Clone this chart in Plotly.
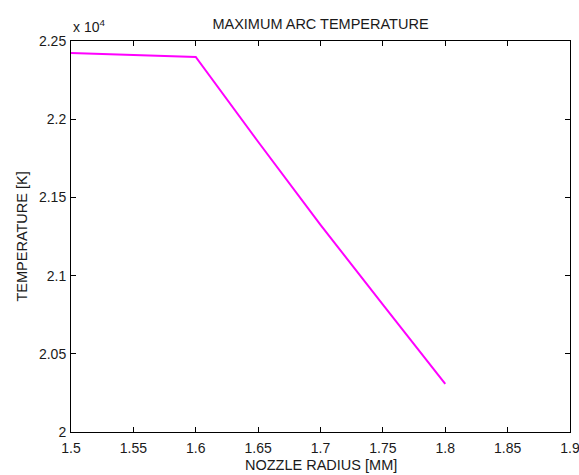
import plotly.graph_objects as go

radius_mm = [1.5, 1.55, 1.6, 1.65, 1.7, 1.75, 1.8]
max_temp_k = [22423, 22411, 22398, 21856, 21324, 20815, 20307]

x_ticks = [1.5, 1.55, 1.6, 1.65, 1.7, 1.75, 1.8, 1.85, 1.9]
x_ticktext = ["1.5", "1.55", "1.6", "1.65", "1.7", "1.75", "1.8", "1.85", "1.9"]
y_ticks = [20000, 20500, 21000, 21500, 22000, 22500]
y_ticktext = ["2", "2.05", "2.1", "2.15", "2.2", "2.25"]

FONT = "Liberation Sans, Arial, sans-serif"
TXT = "#1a1a1a"

fig = go.Figure()
fig.add_trace(go.Scatter(x=radius_mm, y=max_temp_k, mode="lines",
                         line=dict(color="#FF00FF", width=2), showlegend=False))

axis_common = dict(showgrid=False, zeroline=False, showline=True, linecolor="#000000",
                   linewidth=1, mirror="ticks", ticks="inside", ticklen=5,
                   tickcolor="#000000", tickwidth=1, ticklabeloverflow="allow",
                   automargin=False,
                   tickfont=dict(family=FONT, size=14, color=TXT))

fig.update_layout(
    width=579, height=475,
    margin=dict(l=71, r=9, t=41, b=43, autoexpand=False),
    paper_bgcolor="white", plot_bgcolor="white",
    title=dict(text="MAXIMUM ARC TEMPERATURE", x=0.5, xref="paper", xanchor="center",
               y=1, yref="paper", yanchor="bottom", pad=dict(b=12), automargin=False,
               font=dict(family=FONT, size=14.5, color=TXT)),
    xaxis=dict(range=[1.5, 1.9], tickvals=x_ticks, ticktext=x_ticktext,
               ticklabelstandoff=3, **axis_common),
    yaxis=dict(range=[20000, 22500], tickvals=y_ticks, ticktext=y_ticktext,
               ticklabelstandoff=1, **axis_common),
)
fig.add_annotation(text="NOZZLE RADIUS [MM]", xref="paper", yref="paper", x=0.5, y=0,
                   xanchor="center", yanchor="middle", yshift=-33, showarrow=False,
                   font=dict(family=FONT, size=14.5, color=TXT))
fig.add_annotation(text="TEMPERATURE [K]", xref="paper", yref="paper", x=0, y=0.5,
                   xanchor="center", yanchor="middle", xshift=-50, textangle=-90,
                   showarrow=False, font=dict(family=FONT, size=14.5, color=TXT))
fig.add_annotation(text="x 10<sup>4</sup>", xref="paper", yref="paper", x=0, y=1,
                   xanchor="left", yanchor="bottom", showarrow=False, yshift=4,
                   font=dict(family=FONT, size=14, color=TXT))

fig.write_html("out.html")
